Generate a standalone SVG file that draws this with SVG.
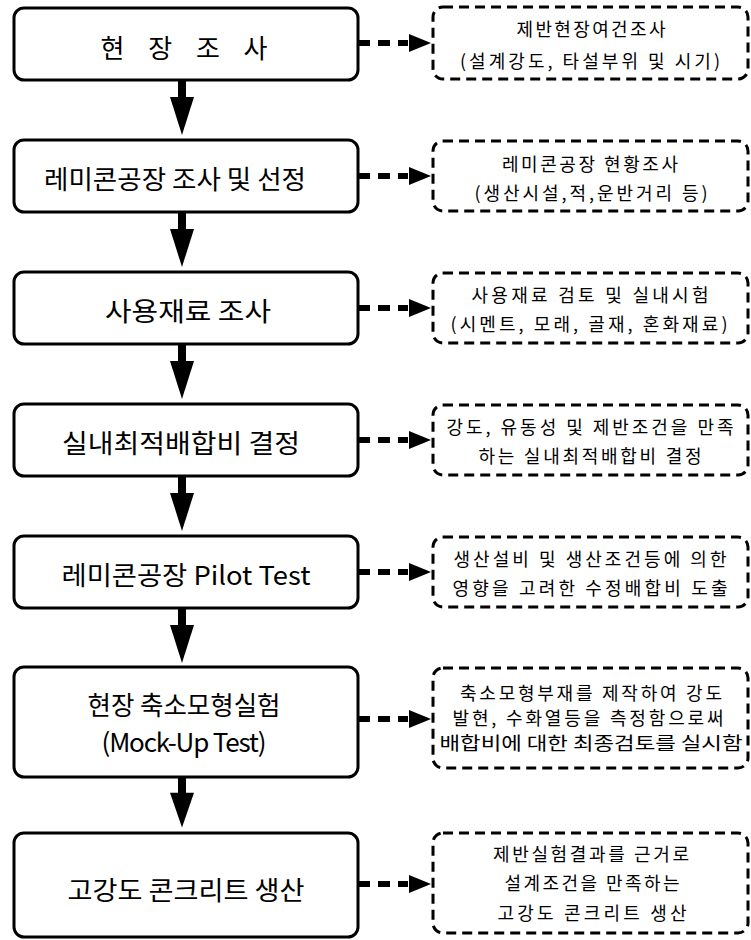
<svg xmlns="http://www.w3.org/2000/svg" width="751" height="940" viewBox="0 0 751 940">
<style>
.box{fill:#fff;stroke:#000;stroke-width:3}
.dbox{fill:#fff;stroke:#000;stroke-width:3;stroke-dasharray:10 6}
.lt{font-family:"Noto Sans CJK KR","Liberation Sans",sans-serif;font-size:26px;fill:#000;text-anchor:middle;dominant-baseline:central}
.rt{font-family:"Noto Sans CJK KR","Liberation Sans",sans-serif;font-size:18px;fill:#000;text-anchor:middle;dominant-baseline:central}
.dl{stroke:#000;stroke-width:6;stroke-dasharray:12 8;fill:none}
</style>
<defs>
<g id="down"><rect x="178" y="0" width="8" height="18" fill="#000"/><polygon points="170,17 194,17 182,55" fill="#000"/></g>
<g id="dash"><line class="dl" x1="358" y1="0" x2="408" y2="0"/><polygon points="409,-9 431,0 409,9" fill="#000"/></g>
</defs>
<g id="connectors">
<use href="#down" y="80"/>
<use href="#down" y="212"/>
<use href="#down" y="344"/>
<use href="#down" y="476"/>
<use href="#down" y="608"/>
<use href="#down" transform="translate(0,777) scale(1,0.92)"/>
<use href="#dash" y="43"/>
<use href="#dash" y="176"/>
<use href="#dash" y="308"/>
<use href="#dash" y="440"/>
<use href="#dash" y="572"/>
<use href="#dash" y="719"/>
<use href="#dash" y="884"/>
</g>
<g id="n1"><rect class="box" x="14" y="8" width="344" height="72" rx="10"/><text class="lt" x="184" y="46" textLength="167" lengthAdjust="spacing">현 장 조 사</text></g>
<g id="n2"><rect class="box" x="14" y="140" width="344" height="72" rx="10"/><text class="lt" x="175" y="177" textLength="262" lengthAdjust="spacingAndGlyphs">레미콘공장 조사 및 선정</text></g>
<g id="n3"><rect class="box" x="14" y="272" width="344" height="72" rx="10"/><text class="lt" x="188" y="309" textLength="166" lengthAdjust="spacingAndGlyphs">사용재료 조사</text></g>
<g id="n4"><rect class="box" x="14" y="404" width="344" height="72" rx="10"/><text class="lt" x="181" y="441" textLength="238" lengthAdjust="spacingAndGlyphs">실내최적배합비 결정</text></g>
<g id="n5"><rect class="box" x="14" y="536" width="344" height="72" rx="10"/><text class="lt" x="186" y="573" textLength="249" lengthAdjust="spacingAndGlyphs">레미콘공장 Pilot Test</text></g>
<g id="n6"><rect class="box" x="14" y="667" width="344" height="110" rx="10"/><text class="lt" x="184" y="703" textLength="193" lengthAdjust="spacingAndGlyphs">현장 축소모형실험</text><text class="lt" x="184" y="740" textLength="165" lengthAdjust="spacing">(Mock-Up Test)</text></g>
<g id="n7"><rect class="box" x="14" y="833" width="344" height="104" rx="10"/><text class="lt" x="186" y="888" textLength="237" lengthAdjust="spacingAndGlyphs">고강도 콘크리트 생산</text></g>
<g id="r1"><rect class="dbox" x="433" y="7" width="315" height="72" rx="10"/><text class="rt" x="591" y="28" textLength="149" lengthAdjust="spacing">제반현장여건조사</text><text class="rt" x="590" y="60" textLength="260" lengthAdjust="spacing">(설계강도, 타설부위 및 시기)</text></g>
<g id="r2"><rect class="dbox" x="433" y="141" width="315" height="70" rx="10"/><text class="rt" x="590" y="163" textLength="176" lengthAdjust="spacing">레미콘공장 현황조사</text><text class="rt" x="591" y="192" textLength="233" lengthAdjust="spacing">(생산시설,적,운반거리 등)</text></g>
<g id="r3"><rect class="dbox" x="433" y="273" width="315" height="70" rx="10"/><text class="rt" x="590" y="294" textLength="237" lengthAdjust="spacing">사용재료 검토 및 실내시험</text><text class="rt" x="589" y="323" textLength="277" lengthAdjust="spacing">(시멘트, 모래, 골재, 혼화재료)</text></g>
<g id="r4"><rect class="dbox" x="433" y="405" width="315" height="70" rx="10"/><text class="rt" x="590" y="426" textLength="287" lengthAdjust="spacing">강도, 유동성 및 제반조건을 만족</text><text class="rt" x="590" y="455" textLength="223" lengthAdjust="spacing">하는 실내최적배합비 결정</text></g>
<g id="r5"><rect class="dbox" x="433" y="537" width="315" height="70" rx="10"/><text class="rt" x="590" y="558" textLength="273" lengthAdjust="spacing">생산설비 및 생산조건등에 의한</text><text class="rt" x="590" y="587" textLength="275" lengthAdjust="spacing">영향을 고려한 수정배합비 도출</text></g>
<g id="r6"><rect class="dbox" x="433" y="668" width="315" height="100" rx="10"/><text class="rt" x="591" y="692" textLength="262" lengthAdjust="spacing">축소모형부재를 제작하여 강도</text><text class="rt" x="588" y="717" textLength="271" lengthAdjust="spacing">발현, 수화열등을 측정함으로써</text><text class="rt" x="591" y="742" textLength="303" lengthAdjust="spacingAndGlyphs">배합비에 대한 최종검토를 실시함</text></g>
<g id="r7"><rect class="dbox" x="433" y="833" width="315" height="100" rx="10"/><text class="rt" x="591" y="853" textLength="196" lengthAdjust="spacing">제반실험결과를 근거로</text><text class="rt" x="592" y="882" textLength="175" lengthAdjust="spacing">설계조건을 만족하는</text><text class="rt" x="592" y="912" textLength="189" lengthAdjust="spacing">고강도 콘크리트 생산</text></g>
</svg>
